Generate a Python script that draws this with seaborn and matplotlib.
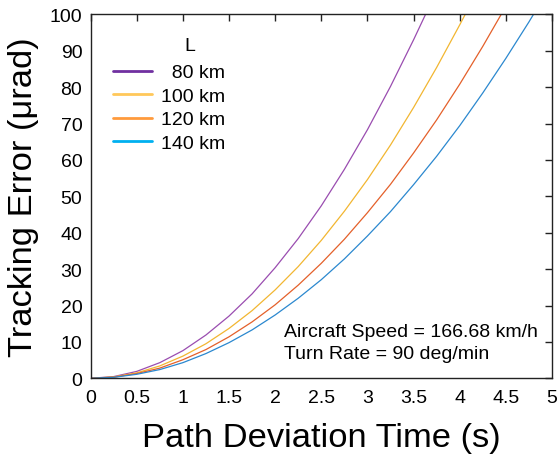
import matplotlib
matplotlib.use("Agg")
import matplotlib.pyplot as plt
from matplotlib.lines import Line2D
import seaborn as sns
import pandas as pd

# values (tracking error in urad)
t_80 = [0, 0.25, 0.5, 0.75, 1, 1.25, 1.5, 1.75, 2, 2.25, 2.5, 2.75, 3, 3.25, 3.5, 3.63]
e_80 = [0, 0.47, 1.9, 4.3, 7.6, 11.9, 17.1, 23.2, 30.4, 38.4, 47.4, 57.4, 68.3, 80.2, 93.0, 100]

t_100 = [0, 0.25, 0.5, 0.75, 1, 1.25, 1.5, 1.75, 2, 2.25, 2.5, 2.75, 3, 3.25, 3.5, 3.75, 4, 4.06]
e_100 = [0, 0.38, 1.5, 3.4, 6.1, 9.5, 13.7, 18.6, 24.3, 30.7, 37.9, 45.9, 54.6, 64.1, 74.4, 85.4, 97.1, 100]

t_120 = [0, 0.25, 0.5, 0.75, 1, 1.25, 1.5, 1.75, 2, 2.25, 2.5, 2.75, 3, 3.25, 3.5, 3.75, 4, 4.25, 4.45]
e_120 = [0, 0.32, 1.3, 2.8, 5.1, 7.9, 11.4, 15.5, 20.2, 25.6, 31.6, 38.2, 45.5, 53.3, 61.9, 71.0, 80.8, 91.2, 100]

t_140 = [0, 0.25, 0.5, 0.75, 1, 1.25, 1.5, 1.75, 2, 2.25, 2.5, 2.75, 3, 3.25, 3.5, 3.75, 4, 4.25, 4.5, 4.75, 4.8]
e_140 = [0, 0.27, 1.1, 2.4, 4.3, 6.8, 9.8, 13.3, 17.4, 22.0, 27.1, 32.8, 39.1, 45.8, 53.2, 61.0, 69.4, 78.4, 87.9, 97.9, 100]

labels = ["  80 km", "100 km", "120 km", "140 km"]
line_colors = ["#9A4DB0", "#F2B631", "#E4602A", "#2B88CF"]
legend_colors = ["#7030A0", "#FFC85A", "#FF9A3C", "#00B0F0"]

x_ticks = [0, 0.5, 1, 1.5, 2, 2.5, 3, 3.5, 4, 4.5, 5]
x_ticklabels = ["0", "0.5", "1", "1.5", "2", "2.5", "3", "3.5", "4", "4.5", "5"]
y_ticks = [0, 10, 20, 30, 40, 50, 60, 70, 80, 90, 100]

frames = []
for lab, t, e in zip(labels, [t_80, t_100, t_120, t_140], [e_80, e_100, e_120, e_140]):
    frames.append(pd.DataFrame({"time": t, "error": e, "L": lab}))
df = pd.concat(frames, ignore_index=True)

sns.set_style("white")
plt.rcParams["font.family"] = ["Liberation Sans", "DejaVu Sans"]
plt.rcParams["text.color"] = "black"
plt.rcParams["axes.labelcolor"] = "black"

fig = plt.figure(figsize=(5.57, 4.56), dpi=100)
ax = fig.add_axes([0.1627, 0.1682, 0.8283, 0.7982])

sns.lineplot(data=df, x="time", y="error", hue="L", palette=dict(zip(labels, line_colors)),
             estimator=None, sort=True, linewidth=0.9, legend=False, ax=ax)

ax.set_xlim(0, 5)
ax.set_ylim(0, 100)
ax.set_xticks(x_ticks)
ax.set_xticklabels(x_ticklabels)
ax.set_yticks(y_ticks)
ax.tick_params(direction="in", top=True, right=True, length=5, width=1,
               labelsize=14, colors="#222222", labelcolor="black")
ax.tick_params(axis="x", pad=8)
ax.tick_params(axis="y", pad=6)
for s in ax.spines.values():
    s.set_color("#222222")
    s.set_linewidth(1.0)

ax.set_xlabel("Path Deviation Time (s)", fontsize=24.8, labelpad=11)
ax.set_ylabel("Tracking Error (\u03bcrad)", fontsize=24.8, labelpad=8)

handles = [Line2D([], [], color=c, linewidth=2) for c in legend_colors]
ax.legend(handles, labels, loc="upper left", bbox_to_anchor=(0.048, 0.864),
          frameon=False, fontsize=14, handlelength=2.0, handletextpad=0.5,
          labelspacing=0.3, borderpad=0, borderaxespad=0)
ax.text(0.215, 0.902, "L", transform=ax.transAxes, fontsize=14, ha="center", va="baseline")

ax.text(2.098, 11.5, "Aircraft Speed = 166.68 km/h", fontsize=14, va="baseline")
ax.text(2.098, 5.5, "Turn Rate = 90 deg/min", fontsize=14, va="baseline")

fig.savefig("out.png", dpi=100)
